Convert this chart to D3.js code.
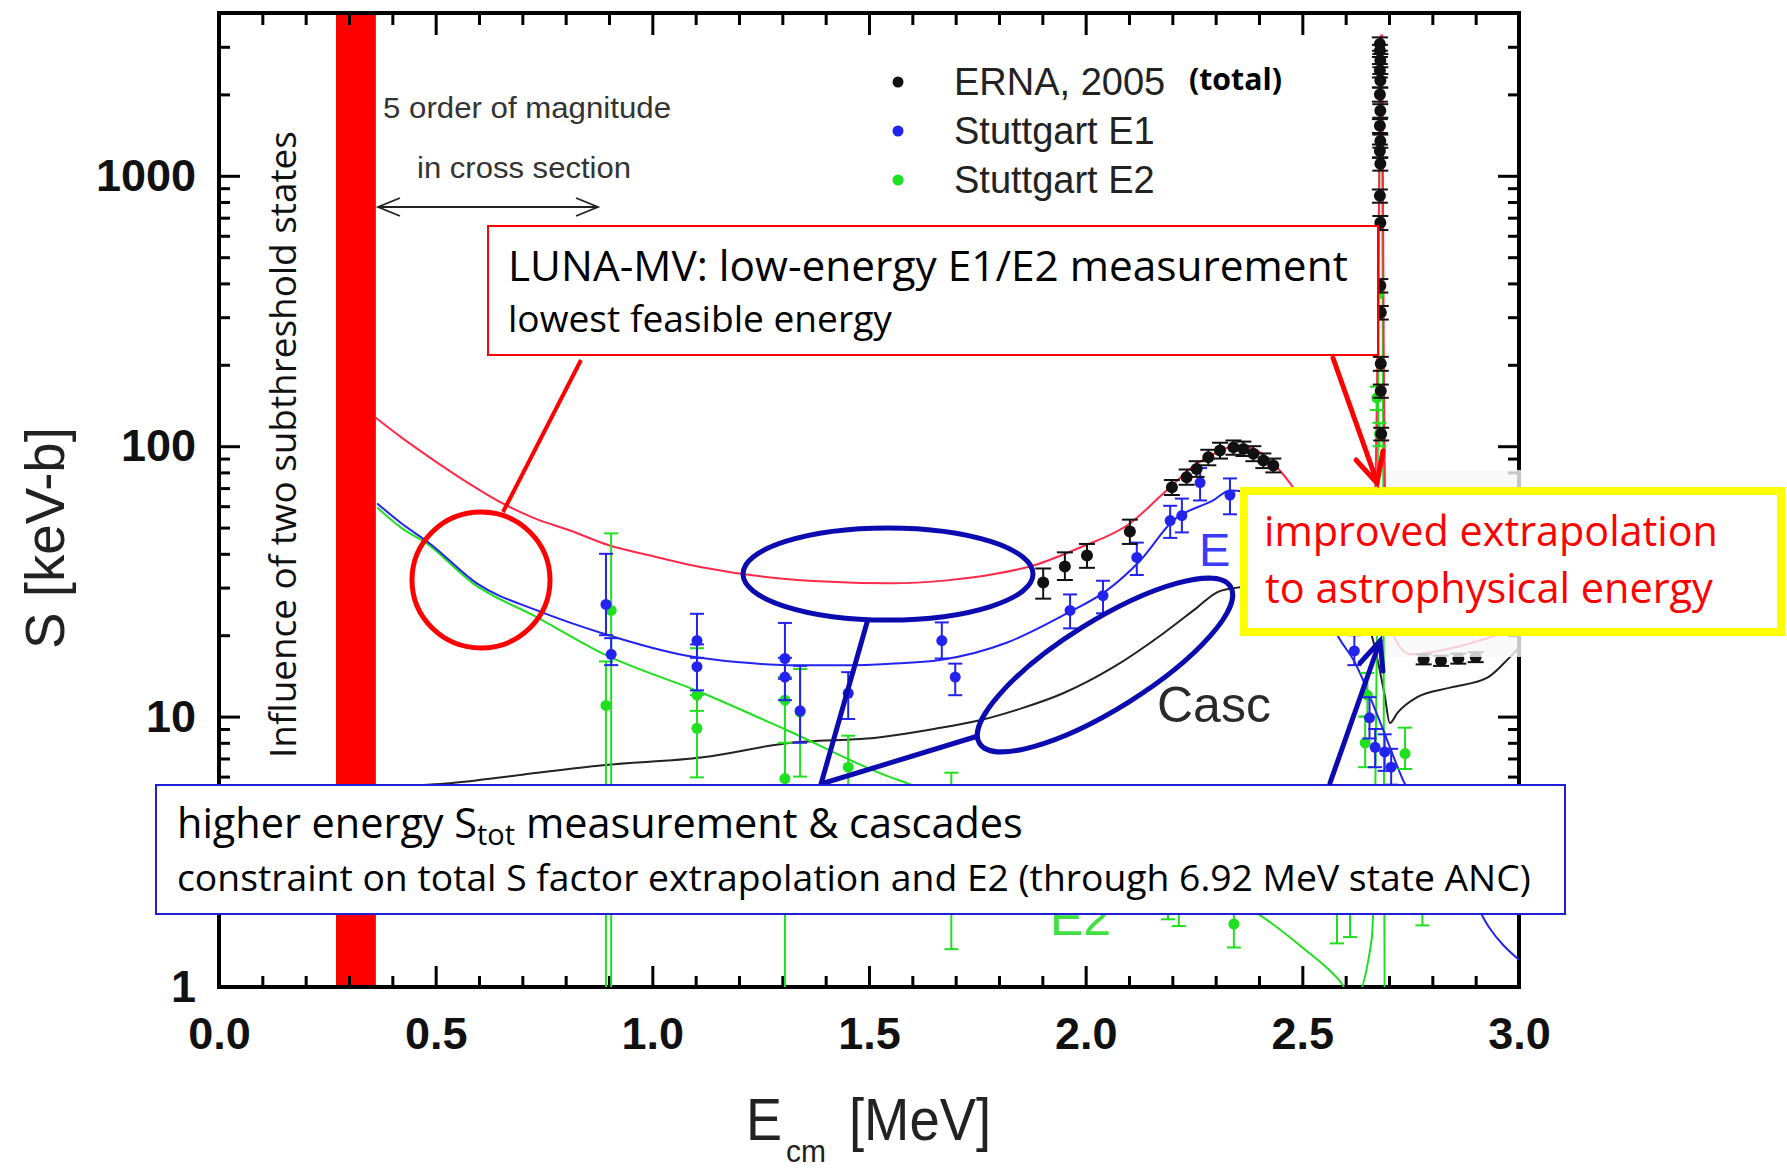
<!DOCTYPE html>
<html><head><meta charset="utf-8">
<script src="https://cdn.jsdelivr.net/npm/d3@7"></script>
<style>body{margin:0;background:#fff}svg{display:block}</style>
</head><body>
<svg id="c" width="1787" height="1168"></svg>
<script>
// ---------- data ----------
const xTicks = [0, 0.5, 1, 1.5, 2, 2.5, 3];
const xTickLabels = ["0.0", "0.5", "1.0", "1.5", "2.0", "2.5", "3.0"];
const yTicks = [1, 10, 100, 1000];
const yTickLabels = ["1", "10", "100", "1000"];
const legendLabels = ["ERNA, 2005", "Stuttgart E1", "Stuttgart E2"];

// R-matrix fits [E (MeV), S (keV b)]
const totalFit = [[0.36,128],[0.42,108],[0.49,90],[0.57,74],[0.655,61.4],[0.73,54],[0.81,48.8],[0.9,43],[0.995,39.4],[1.117,35.6],[1.272,32.7],[1.41,31.5],[1.549,31.1],[1.68,31.9],[1.796,33.8],[1.879,36.2],[1.987,42.2],[2.102,51.8],[2.179,66.8],[2.257,86.2],[2.31,96],[2.349,100.5],[2.396,96.3],[2.442,83.4],[2.5,62],[2.55,42],[2.6,30],[2.64,28],[2.665,45],[2.672,150],[2.677,800],[2.679,2400],[2.680,3300],[2.684,3300],[2.686,1000],[2.688,200],[2.691,60],[2.70,22],[2.75,17],[2.85,18],[2.95,20],[3.0,21]];
const e1Fit = [[0.365,61.4],[0.42,52],[0.487,43.6],[0.595,31.1],[0.734,24.7],[0.886,20.3],[1.08,16.8],[1.2,15.9],[1.311,15.5],[1.45,15.5],[1.549,15.7],[1.664,16.2],[1.819,18.8],[1.957,24.1],[2.049,29.3],[2.126,37.8],[2.202,53.1],[2.294,63],[2.333,68.6],[2.4,66],[2.5,42],[2.585,19.5],[2.62,16],[2.68,9.5],[2.733,5.8],[2.85,3.0],[2.93,1.67],[3.0,1.26]];
const e2Fit = [[0.365,59.3],[0.42,50],[0.48,43.6],[0.586,31.1],[0.734,23.3],[0.886,17.1],[1.117,12.2],[1.311,8.9],[1.549,5.97],[1.588,5.67],[1.8,3.9],[2.0,2.9],[2.2,2.3],[2.388,1.9],[2.5,1.4],[2.585,1.06],[2.62,0.9],[2.66,1.5],[2.672,20],[2.677,600],[2.680,2500],[2.684,1500],[2.687,50],[2.69,0.9],[2.75,0.5]];
const cascFit = [[0.36,5.35],[0.415,5.5],[0.533,5.67],[0.7,6.1],[0.886,6.61],[1.117,7.07],[1.311,7.97],[1.526,8.39],[1.65,9.0],[1.756,9.69],[1.85,10.7],[1.948,12.2],[2.063,15.2],[2.179,20.3],[2.257,25.3],[2.303,28.8],[2.338,29.8],[2.45,31],[2.55,30],[2.62,26],[2.66,20],[2.69,12],[2.702,9.46],[2.719,10.3],[2.765,11.8],[2.841,12.8],[2.926,13.9],[2.979,16.6],[3.0,18]];

// data points [E, S, low, high]
const ernaPts = [[1.902,31.3,27.3,35.3],[1.952,35.9,32,40.5],[2.003,39.4,35.5,43.5],[2.102,48.4,43.5,53.5],[2.199,70.5,66,75],[2.233,76.8,72,82],[2.256,82.4,77,88],[2.283,91,85,97],[2.31,96.4,90,103],[2.341,99,93,105],[2.364,97.7,92,104],[2.387,93.7,88,100],[2.41,88.5,83,94],[2.433,84.8,80,90],
 [2.679,3070,2900,3250],[2.679,2900,2750,3050],[2.68,2670,2520,2820],[2.679,2450,2310,2590],[2.68,2250,2120,2380],[2.679,2000,1880,2120],[2.68,1740,1640,1840],[2.679,1530,1440,1620],[2.68,1346,1270,1420],[2.679,1236,1165,1305],[2.68,1107,1045,1170],[2.679,843,795,890],[2.68,670,630,710],[2.68,392,370,415],[2.681,312,294,330],[2.681,202,190,214],[2.681,160,151,169],[2.682,111,105,117],
 [2.78,16.3,15.6,17],[2.82,16.1,15.4,16.8],[2.86,16.4,15.7,17.1],[2.9,16.6,15.9,17.3]];
const e1Pts = [[0.893,26,20,40],[0.905,17,15.5,19.5],[1.103,19.1,16.5,24],[1.103,15.3,12.5,18.5],[1.306,16.4,13.8,22.2],[1.306,14,11.5,16.5],[1.341,10.5,8.0,15.4],[1.452,12.2,9.8,14.6],[1.668,19.1,16.4,22.3],[1.699,14,12,15.7],[1.964,24.7,21.2,28.3],[2.04,28,24.1,31.8],[2.118,38.8,33.4,44],[2.195,53.1,45.8,60.2],[2.222,55.4,48,64],[2.264,73.4,63,83],[2.333,66,56,76],[2.62,17.5,15.5,20],[2.655,9.9,8.3,11.8],[2.668,7.7,6.5,9.0],[2.69,7.4,6.3,8.6],[2.705,6.5,5.6,7.6]];
const e2Pts = [[0.893,11,0.5,16],[0.905,24.7,0.5,47.6],[1.103,12,10.5,17.9],[1.103,9.05,5.96,12],[1.306,11.5,0.5,14],[1.306,5.9,4.5,8],[1.341,10.4,6,15],[1.452,6.5,4,8.5],[1.69,3.0,1.38,6.2],[2.19,2.4,1.78,3.2],[2.215,2.2,1.68,2.9],[2.342,1.71,1.40,2.1],[2.58,2.0,1.45,2.8],[2.61,2.2,1.53,3.0],[2.645,8.0,6.5,10],[2.65,12,10,14.5],[2.737,7.3,6.4,9.1],[2.777,2.3,1.69,3.2],[2.676,366,330,400],[2.672,151,136,166],[2.678,111,100,122]];

// ---------- setup ----------
const svg = d3.select("#c");
const x = d3.scaleLinear().domain([0, 3]).range([219, 1519]);
const y = d3.scaleLog().domain([1, 4000]).range([987, 13]);
const C = {red:"#ff0000", fitRed:"#ff2a4a", blue:"#2323f0", green:"#1fe01f", dark:"#1c1c1c", annBlue:"#0b0bb0"};

svg.append("rect").attr("width",1787).attr("height",1168).attr("fill","#fff");
const defs = svg.append("defs");
defs.append("clipPath").attr("id","plot").append("rect")
  .attr("x",219).attr("y",13).attr("width",1300).attr("height",974);
defs.append("clipPath").attr("id","belowBox").append("rect")
  .attr("x",219).attr("y",915).attr("width",1300).attr("height",72);

// red band (region of subthreshold influence)
svg.append("rect").attr("x",x(0.27)).attr("y",13).attr("width",x(0.362)-x(0.27)).attr("height",974).attr("fill",C.red);

// ---------- axes ----------
const xMinor = d3.range(0, 3.0001, 0.1).filter(v => Math.abs(v*2 - Math.round(v*2)) > 1e-6);
const yMinor = [];
[1,10,100,1000].forEach(d => { for (let k=2;k<=9;k++){ if (d*k < 4000) yMinor.push(d*k); } });

function styleAxis(g){ g.select(".domain").remove(); g.selectAll("line").attr("stroke","#000").attr("stroke-width",3); }
svg.append("g").attr("transform","translate(0,987)").call(d3.axisBottom(x).tickValues(xTicks).tickFormat((d,i)=>xTickLabels[i]).tickSize(-21).tickPadding(30)).call(styleAxis)
  .selectAll("text").attr("font-family","Liberation Sans, Arial, sans-serif").attr("font-weight","bold").attr("font-size",45).attr("fill","#111");
svg.append("g").attr("transform","translate(0,987)").call(d3.axisBottom(x).tickValues(xMinor).tickFormat("").tickSize(-11)).call(styleAxis);
svg.append("g").attr("transform","translate(0,13)").call(d3.axisTop(x).tickValues(xTicks).tickFormat("").tickSize(-22)).call(styleAxis);
svg.append("g").attr("transform","translate(0,13)").call(d3.axisTop(x).tickValues(xMinor).tickFormat("").tickSize(-12)).call(styleAxis);
svg.append("g").attr("transform","translate(219,0)").call(d3.axisLeft(y).tickValues(yTicks).tickFormat((d,i)=>yTickLabels[i]).tickSize(-21).tickPadding(23)).call(styleAxis)
  .selectAll("text").attr("font-family","Liberation Sans, Arial, sans-serif").attr("font-weight","bold").attr("font-size",45).attr("fill","#111");
svg.append("g").attr("transform","translate(219,0)").call(d3.axisLeft(y).tickValues(yMinor).tickFormat("").tickSize(-11)).call(styleAxis);
svg.append("g").attr("transform","translate(1519,0)").call(d3.axisRight(y).tickValues(yTicks).tickFormat("").tickSize(-21)).call(styleAxis);
svg.append("g").attr("transform","translate(1519,0)").call(d3.axisRight(y).tickValues(yMinor).tickFormat("").tickSize(-11)).call(styleAxis);
svg.append("rect").attr("x",219).attr("y",13).attr("width",1300).attr("height",974).attr("fill","none").attr("stroke","#000").attr("stroke-width",4);

// axis titles
svg.append("text").attr("transform","translate(64,538) rotate(-90)").attr("text-anchor","middle")
  .attr("font-family","Liberation Sans, Arial, sans-serif").attr("font-size",56).attr("fill","#222")
  .attr("textLength",222).attr("lengthAdjust","spacingAndGlyphs").text("S [keV-b]");
const xt = svg.append("g").attr("font-family","Liberation Sans, Arial, sans-serif").attr("fill","#222");
xt.append("text").attr("x",746).attr("y",1140).attr("font-size",60).attr("textLength",36).attr("lengthAdjust","spacingAndGlyphs").text("E");
xt.append("text").attr("x",786).attr("y",1162).attr("font-size",32).attr("textLength",40).attr("lengthAdjust","spacingAndGlyphs").text("cm");
xt.append("text").attr("x",849).attr("y",1140).attr("font-size",60).attr("textLength",142).attr("lengthAdjust","spacingAndGlyphs").text("[MeV]");

// ---------- curves ----------
const plot = svg.append("g").attr("clip-path","url(#plot)");
const line = d3.line().x(d=>x(d[0])).y(d=>y(d[1])).curve(d3.curveMonotoneX);
[[cascFit,"#222"],[e2Fit,C.green],[e1Fit,C.blue],[totalFit,C.fitRed]].forEach(([data,col])=>{
  plot.append("path").attr("d",line(data)).attr("fill","none").attr("stroke",col).attr("stroke-width",2);
});

// ---------- points with error bars ----------
function drawPts(data,col,r,cap){
  const g = plot.append("g");
  data.forEach(d=>{
    const cx=x(d[0]);
    g.append("line").attr("x1",cx).attr("x2",cx).attr("y1",y(d[2])).attr("y2",y(d[3])).attr("stroke",col).attr("stroke-width",2);
    [d[2],d[3]].forEach(v=>g.append("line").attr("x1",cx-cap).attr("x2",cx+cap).attr("y1",y(v)).attr("y2",y(v)).attr("stroke",col).attr("stroke-width",2));
    g.append("circle").attr("cx",cx).attr("cy",y(d[1])).attr("r",r).attr("fill",col);
  });
}
drawPts(e2Pts,C.green,5.5,7);
drawPts(e1Pts,C.blue,5.5,7);
drawPts(ernaPts,"#111",6,8);

// curve labels
svg.append("text").attr("x",1157).attr("y",722).attr("font-family","Liberation Sans, Arial, sans-serif").attr("font-size",50).attr("fill","#2a2a2a").text("Casc");
const e1l = svg.append("text").attr("x",1199).attr("y",566).attr("font-family","Liberation Sans, Arial, sans-serif").attr("font-size",47).attr("fill","#3b3bff");
e1l.append("tspan").text("E");
e1l.append("tspan").attr("dx",14).text("1");
svg.append("g").attr("clip-path","url(#belowBox)").append("text").attr("x",1050).attr("y",935).attr("font-family","Liberation Sans, Arial, sans-serif").attr("font-size",50).attr("fill","#3fe03f").text("E2");

// ---------- legend ----------
const legCols = ["#111", C.blue, C.green];
const lg = svg.append("g");
legendLabels.forEach((t,i)=>{
  const yy = [82,131,180][i];
  lg.append("circle").attr("cx",898).attr("cy",yy).attr("r",5.5).attr("fill",legCols[i]);
  lg.append("text").attr("x",954).attr("y",yy+13).attr("font-family","Liberation Sans, Arial, sans-serif").attr("font-size",38).attr("fill","#222").text(t);
});

// fit helper
function fit(sel, w){ const n=sel.node(); const fs=+sel.attr("font-size"); const L=n.getComputedTextLength(); sel.attr("font-size", fs*w/L); return sel; }
const sans = "Open Sans, Lato, sans-serif";
fit(svg.append("text").attr("x",1189).attr("y",90).attr("font-family",sans).attr("font-weight","bold").attr("font-size",30).attr("fill","#000").text("(total)"),93);

// ---------- annotations ----------
const ann = svg.append("g").attr("font-family","Liberation Sans, Arial, sans-serif").attr("fill","#333").attr("font-size",29);
ann.append("text").attr("x",383).attr("y",118).attr("textLength",288).attr("lengthAdjust","spacingAndGlyphs").text("5 order of magnitude");
ann.append("text").attr("x",417).attr("y",178).attr("textLength",214).attr("lengthAdjust","spacingAndGlyphs").text("in cross section");
const arr = svg.append("g").attr("stroke","#222").attr("stroke-width",1.8).attr("fill","none");
arr.append("line").attr("x1",378).attr("x2",598).attr("y1",207).attr("y2",207);
arr.append("path").attr("d","M400,198 L378,207 L400,216");
arr.append("path").attr("d","M576,198 L598,207 L576,216");

// vertical label
fit(svg.append("text").attr("transform","translate(296,758) rotate(-90)").attr("font-family",sans).attr("font-size",36).attr("fill","#111").text("Influence of two subthreshold states"),627);

// light patch near right axis
svg.append("rect").attr("x",1387).attr("y",470).attr("width",135).attr("height",187).attr("fill","#f7f7f7").attr("opacity",0.8);

// red circle & callout
svg.append("ellipse").attr("cx",481).attr("cy",580).attr("rx",69).attr("ry",68).attr("fill","none").attr("stroke",C.red).attr("stroke-width",5);
svg.append("line").attr("x1",581).attr("y1",360).attr("x2",503).attr("y2",512).attr("stroke",C.red).attr("stroke-width",4);

// blue ellipses & callout
svg.append("ellipse").attr("cx",888).attr("cy",574).attr("rx",145).attr("ry",46).attr("fill","none").attr("stroke",C.annBlue).attr("stroke-width",5);
svg.append("ellipse").attr("transform","translate(1105,665) rotate(-32)").attr("rx",148).attr("ry",44).attr("fill","none").attr("stroke",C.annBlue).attr("stroke-width",5);
svg.append("path").attr("d","M868,619 L821,784 L978,736").attr("fill","none").attr("stroke",C.annBlue).attr("stroke-width",5).attr("stroke-linejoin","miter");

// boxes
svg.append("rect").attr("x",488).attr("y",226).attr("width",890).attr("height",129).attr("fill","#fff").attr("stroke",C.red).attr("stroke-width",2);
svg.append("rect").attr("x",1244).attr("y",491).attr("width",537).attr("height",141).attr("fill","#fff").attr("stroke","#ffff00").attr("stroke-width",8);
svg.append("rect").attr("x",156).attr("y",785).attr("width",1409).attr("height",129).attr("fill","#fff").attr("stroke","#1f1fd8").attr("stroke-width",2);

// box texts
fit(svg.append("text").attr("x",508).attr("y",281).attr("font-family",sans).attr("font-size",40).attr("fill","#000").text("LUNA-MV: low-energy E1/E2 measurement"),840);
fit(svg.append("text").attr("x",508).attr("y",332).attr("font-family",sans).attr("font-size",34).attr("fill","#000").text("lowest feasible energy"),384);
fit(svg.append("text").attr("x",1264).attr("y",546).attr("font-family",sans).attr("font-size",40).attr("fill","#ff0000").text("improved extrapolation"),454);
fit(svg.append("text").attr("x",1265).attr("y",603).attr("font-family",sans).attr("font-size",40).attr("fill","#ff0000").text("to astrophysical energy"),448);
const hl = svg.append("text").attr("x",177).attr("y",838).attr("font-family",sans).attr("font-size",36).attr("fill","#000");
hl.append("tspan").text("higher energy S");
hl.append("tspan").attr("font-size","0.7em").attr("dy",7).text("tot");
hl.append("tspan").attr("dy",-7).text(" measurement & cascades");
fit(hl,846);
fit(svg.append("text").attr("x",177).attr("y",891).attr("font-family",sans).attr("font-size",30).attr("fill","#000").text("constraint on total S factor extrapolation and E2 (through 6.92 MeV state ANC)"),1354);

// arrows
const ra = svg.append("g").attr("stroke",C.red).attr("stroke-width",5).attr("fill","none").attr("stroke-linecap","round");
ra.append("line").attr("x1",1333).attr("y1",358).attr("x2",1377).attr("y2",482);
ra.append("path").attr("d","M1356,460 L1377,483 L1383,451");
const ba = svg.append("g").attr("stroke",C.annBlue).attr("stroke-width",5).attr("fill","none").attr("stroke-linecap","round");
ba.append("line").attr("x1",1330).attr("y1",783).attr("x2",1380).attr("y2",641);
ba.append("path").attr("d","M1360,663 L1380,641 L1383,671");
</script>
</body></html>
